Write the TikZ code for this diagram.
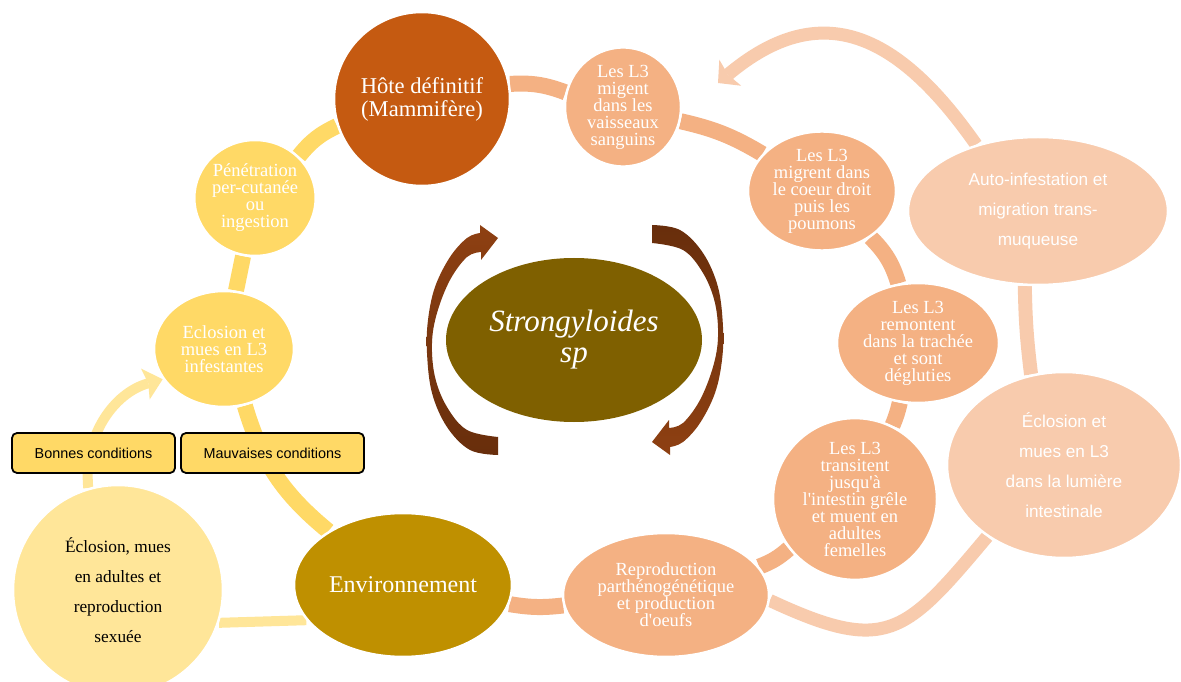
\documentclass[tikz,border=0pt]{standalone}
\usepackage{fontspec}
\setmainfont{Liberation Serif}
\newfontfamily\arialf{Liberation Sans}
\usetikzlibrary{shapes.geometric,arrows.meta}
\pgfdeclarelayer{bg}
\pgfsetlayers{bg,main}
\definecolor{hotec}{HTML}{C55A11}
\definecolor{salm}{HTML}{F4B183}
\definecolor{pale}{HTML}{F8CBAD}
\definecolor{envc}{HTML}{BF9000}
\definecolor{olivec}{HTML}{7F6000}
\definecolor{yel}{HTML}{FFD966}
\definecolor{lyel}{HTML}{FFE699}
\definecolor{brA}{RGB}{142,64,18}
\definecolor{brB}{RGB}{104,46,12}
\begin{document}
\begin{tikzpicture}[x=1pt,y=1pt,
  bub/.style={ellipse, draw=white, line width=2.5pt, inner sep=0pt, align=center, text=white},
  sm/.style={font=\fontsize{18.5}{17}\selectfont},
  sansb/.style={font=\arialf\fontsize{17.2}{30}\selectfont},
  ring/.style={line width=16pt},
  cond/.style={draw=black, line width=1.8pt, rounded corners=5pt, fill=yel, inner sep=0pt,
     minimum height=40pt, font=\arialf\fontsize{14.4}{16}\selectfont, text=black}]
\useasboundingbox (0,0) rectangle (1181,681);
\clip (0,0) rectangle (1181,681);

% central species
\node[ellipse, fill=olivec, minimum width=256pt, minimum height=164pt, inner sep=0pt,
  text=white, align=center, font=\fontsize{31}{31}\selectfont\itshape] (strong) at (574,341) {Strongyloides\\sp};

% host cycle
\node[bub, fill=hotec, minimum width=176pt, minimum height=174pt, font=\fontsize{22.6}{23}\selectfont] (hote) at (422,582) {Hôte définitif\\(Mammifère)};
\node[bub, sm, fill=salm, minimum width=116pt, minimum height=112pt] (migent) at (623,574) {Les L3\\migent\\dans les\\vaisseaux\\sanguins};
\node[bub, sm, fill=salm, minimum width=148pt, minimum height=114pt] (coeur) at (822,490) {Les L3\\migrent dans\\le coeur droit\\puis les\\poumons};
\node[bub, sm, fill=salm, minimum width=162pt, minimum height=120pt] (trachee) at (918,338) {Les L3\\remontent\\dans la trachée\\et sont\\dégluties};
\node[bub, sm, fill=salm, minimum width=164pt, minimum height=142pt] (transit) at (855,182) {Les L3\\transitent\\jusqu\textquotesingle à\\l\textquotesingle intestin grêle\\et muent en\\adultes\\femelles};
\node[bub, sm, fill=salm, minimum width=206pt, minimum height=124pt] (repro) at (666,86) {Reproduction\\parthénogénétique\\et production\\d\textquotesingle oeufs};
\node[bub, fill=envc, minimum width=218pt, minimum height=144pt, font=\fontsize{24}{25}\selectfont] (env) at (403,96) {Environnement};
\node[bub, fill=lyel, text=black, minimum width=210pt, minimum height=210pt, font=\fontsize{17.3}{30}\selectfont] (sexuee) at (118,91) {Éclosion, mues\\en adultes et\\reproduction\\sexuée};
\node[bub, sm, fill=yel, minimum width=140pt, minimum height=116pt] (infest) at (224,332) {Eclosion et\\mues en L3\\infestantes};
\node[bub, sm, fill=yel, minimum width=118pt, minimum height=116pt] (penet) at (255,483) {Pénétration\\per-cutanée\\ou\\ingestion};

% auto-infestation
\node[bub, sansb, fill=pale, minimum width=260pt, minimum height=148pt] (auto) at (1038,470) {Auto-infestation et\\migration trans-\\muqueuse};
\node[bub, sansb, fill=pale, minimum width=234pt, minimum height=186pt] (intest) at (1064,216) {Éclosion et\\mues en L3\\dans la lumière\\intestinale};
\coordinate (autotip) at (718,598);

% condition boxes
\node[cond, minimum width=163pt] (bonnes) at (93.5,228) {Bonnes conditions};
\node[cond, minimum width=183pt] (mauv) at (272.5,228) {Mauvaises conditions};

\begin{pgfonlayer}{bg}
\fill[white] (0,0) rectangle (1181,681);
\draw[ring, salm] (hote) to[bend left=12] (migent);
\draw[ring, salm] (migent) to[bend left=9] (coeur);
\draw[ring, salm] (coeur) to[bend left=14] (trachee);
\draw[ring, salm] (trachee) to[bend left=5] (transit);
\draw[ring, salm] (transit) to[bend left=10] (repro);
\draw[ring, salm] (repro) to[bend left=8] (env);
\draw[ring, yel] (env) to[bend left=17] (infest);
\draw[ring, yel] (infest) -- (penet);
\draw[ring, yel] (penet) to[bend left=13] (hote);
\draw[line width=10pt, lyel] (env.200) -- (sexuee.-18);
\draw[line width=10pt, lyel, -{Stealth[length=18pt,width=32pt,inset=3pt,line width=0pt]}] (sexuee) to[bend left=40] (infest);
\draw[line width=14pt, pale] (auto.-100) to[bend right=3] (intest.110);
\draw[line width=13pt, pale] (intest.223) to[out=230,in=-25,looseness=1.45] (repro.-3);
\draw[line width=13pt, pale, -{Stealth[length=16pt,width=34pt,inset=3pt,line width=0pt]}] (auto.133) to[out=125,in=40,looseness=1.3] (autotip);
\end{pgfonlayer}

% circular arrows around the species
\shade[top color=brA, bottom color=brB]
  plot[smooth, tension=0.6] coordinates {(498,226) (470,231) (447,254) (432,288) (427,328) (428,361) (435,394) (450,424) (467,443) (480,448)}
  -- (480,456) -- (498,443) -- (481,421) -- (481,429)
  -- plot[smooth, tension=0.6] coordinates {(481,429) (467,424) (450,401) (437,368) (432,338) (435,304) (447,274) (467,251) (498,244)}
  -- cycle;
\shade[top color=brB, bottom color=brA]
  plot[smooth, tension=0.6] coordinates {(652,456) (680,451) (703,428) (718,394) (723,354) (722,321) (715,288) (700,258) (683,239) (670,234)}
  -- (670,226) -- (652,239) -- (669,261) -- (669,253)
  -- plot[smooth, tension=0.6] coordinates {(669,253) (683,258) (700,281) (713,314) (718,344) (715,378) (703,408) (683,431) (652,438)}
  -- cycle;
\end{tikzpicture}
\end{document}
